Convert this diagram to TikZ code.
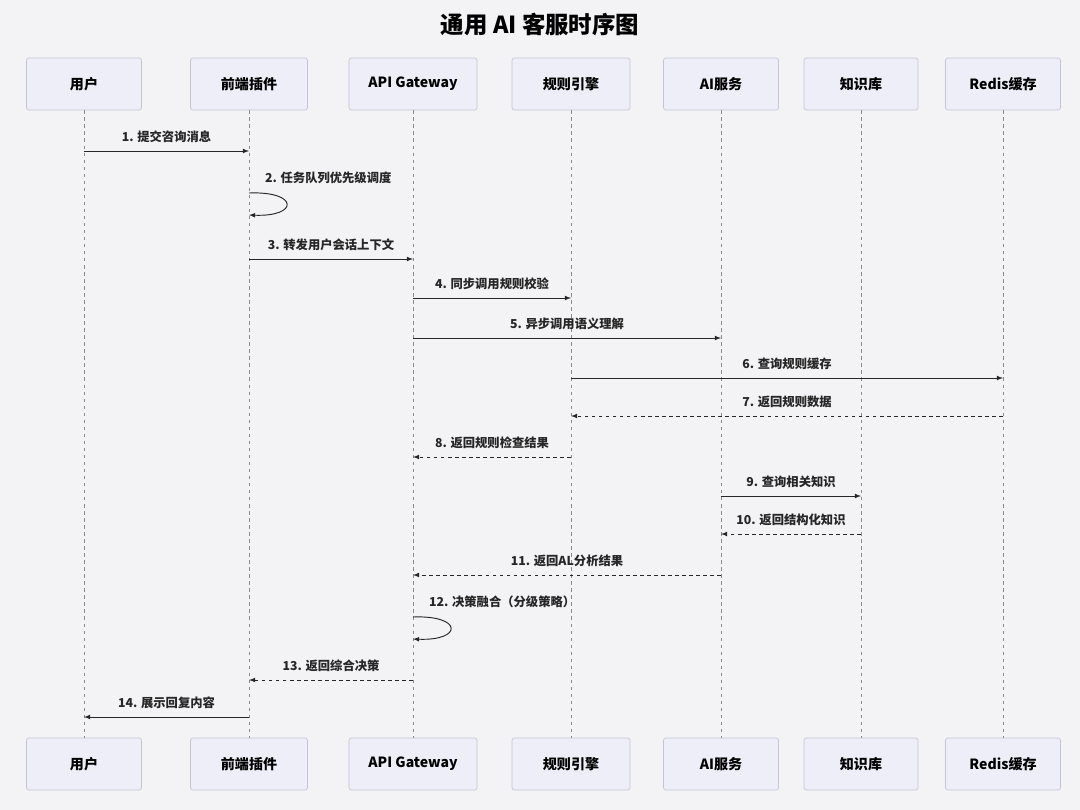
\documentclass[tikz,border=0pt]{standalone}
\usepackage{fontspec}
\setmainfont{Noto Sans CJK SC}
\usetikzlibrary{positioning}
\definecolor{bgc}{HTML}{F3F3F6}
\definecolor{boxfill}{HTML}{EEEEF9}
\definecolor{boxline}{HTML}{C4C4D4}
\definecolor{lifec}{HTML}{8A8A8A}
\tikzset{
  actor/.style={draw=boxline, fill=boxfill, rounded corners=2pt, minimum width=#1, minimum height=1.56cm, font=\bfseries\fontsize{12}{12}\selectfont, line width=0.6pt},
  life/.style={draw=lifec, dashed, line width=0.5pt},
  msg/.style={-latex, line width=0.8pt, black!85},
  reply/.style={-latex, dashed, line width=0.8pt, black!85},
  lbl/.style={font=\bfseries\fontsize{10.5}{10.5}\selectfont, above=3pt}
}
\begin{document}
\begin{tikzpicture}[x=0.03cm, y=-0.03cm]
\fill[bgc] (0,0) rectangle (1080,810);
\useasboundingbox (0,0) rectangle (1080,810);
\node[font=\bfseries\fontsize{20}{20}\selectfont] (title) at (540,25) {通用 AI 客服时序图};
% participants, top and bottom
\foreach \n/\x/\w/\t in {user/84/115/用户, fe/249/117/前端插件, gw/413/128/API Gateway, rule/571/118/规则引擎, ai/721/115/AI服务, kb/861/114/知识库, rds/1003/115/Redis缓存}{
  \node[actor=\w*0.03cm] (\n) at (\x,84) {\t};
  \node[actor=\w*0.03cm] (\n b) at (\x,764) {\t};
  \draw[life] (\n.south) -- (\n b.north);
}
% message rows
\foreach \i/\y in {1/151,2/193,3/259,4/298,5/338,6/378,7/416,8/457,9/496,10/534,11/575,12/617,13/680,14/717}
  \coordinate (y\i) at (0,\y);
% messages
\draw[msg] (user |- y1) -- node[lbl]{1. 提交咨询消息} (fe |- y1);
\draw[msg] (fe |- y2) .. controls +(50,-2) and +(50,2) .. node[pos=0,anchor=south west,font=\bfseries\fontsize{10.5}{10.5}\selectfont,xshift=10pt,yshift=4pt]{2. 任务队列优先级调度} ([yshift=-0.66cm]fe |- y2);
\draw[msg] (fe |- y3) -- node[lbl]{3. 转发用户会话上下文} (gw |- y3);
\draw[msg] (gw |- y4) -- node[lbl]{4. 同步调用规则校验} (rule |- y4);
\draw[msg] (gw |- y5) -- node[lbl]{5. 异步调用语义理解} (ai |- y5);
\draw[msg] (rule |- y6) -- node[lbl]{6. 查询规则缓存} (rds |- y6);
\draw[reply] (rds |- y7) -- node[lbl]{7. 返回规则数据} (rule |- y7);
\draw[reply] (rule |- y8) -- node[lbl]{8. 返回规则检查结果} (gw |- y8);
\draw[msg] (ai |- y9) -- node[lbl]{9. 查询相关知识} (kb |- y9);
\draw[reply] (kb |- y10) -- node[lbl]{10. 返回结构化知识} (ai |- y10);
\draw[reply] (ai |- y11) -- node[lbl]{11. 返回AL分析结果} (gw |- y11);
\draw[msg] (gw |- y12) .. controls +(50,-2) and +(50,2) .. node[pos=0,anchor=south west,font=\bfseries\fontsize{10.5}{10.5}\selectfont,xshift=10pt,yshift=4pt]{12. 决策融合（分级策略）} ([yshift=-0.66cm]gw |- y12);
\draw[reply] (gw |- y13) -- node[lbl]{13. 返回综合决策} (fe |- y13);
\draw[msg] (fe |- y14) -- node[lbl]{14. 展示回复内容} (user |- y14);
\end{tikzpicture}
\end{document}
